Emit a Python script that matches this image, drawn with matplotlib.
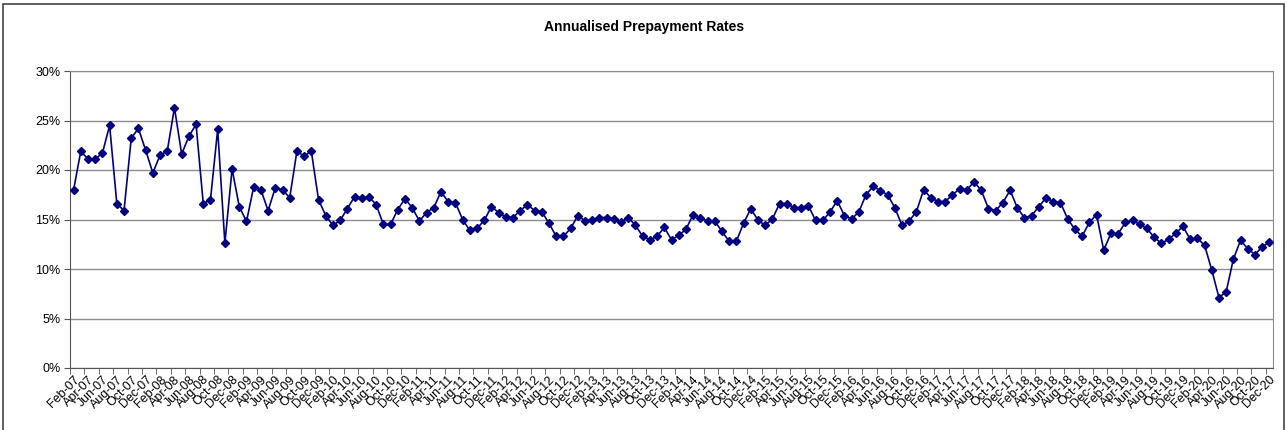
import matplotlib.pyplot as plt
from matplotlib.patches import Rectangle
from matplotlib.ticker import FuncFormatter

plt.rcParams['font.family'] = ['Liberation Sans', 'DejaVu Sans']

# monthly annualised prepayment rate (%), Feb-07 .. Dec-20
rates_2007 = [18.0, 21.9, 21.1, 21.1, 21.7, 24.5, 16.6, 15.9, 23.2, 24.2, 22.0]
rates_2008 = [19.7, 21.5, 21.9, 26.3, 21.6, 23.4, 24.6, 16.6, 17.0, 24.1, 12.6, 20.1]
rates_2009 = [16.3, 14.8, 18.3, 18.0, 15.9, 18.2, 18.0, 17.2, 21.9, 21.4, 21.9, 17.0]
rates_2010 = [15.4, 14.4, 14.9, 16.1, 17.3, 17.2, 17.3, 16.5, 14.5, 14.5, 16.0, 17.1]
rates_2011 = [16.2, 14.85, 15.7, 16.2, 17.8, 16.8, 16.7, 15.0, 13.9, 14.1, 14.9, 16.3]
rates_2012 = [15.7, 15.25, 15.2, 15.9, 16.5, 15.9, 15.8, 14.6, 13.3, 13.3, 14.1, 15.4]
rates_2013 = [14.85, 15.0, 15.2, 15.2, 15.05, 14.75, 15.2, 14.4, 13.3, 12.95, 13.3, 14.2]
rates_2014 = [12.95, 13.4, 14.0, 15.5, 15.15, 14.85, 14.85, 13.8, 12.8, 12.8, 14.6, 16.1]
rates_2015 = [14.95, 14.4, 15.05, 16.6, 16.6, 16.2, 16.2, 16.4, 14.9, 14.9, 15.75, 16.9]
rates_2016 = [15.4, 15.05, 15.75, 17.5, 18.35, 17.9, 17.5, 16.2, 14.4, 14.85, 15.8, 18.0]
rates_2017 = [17.2, 16.8, 16.8, 17.5, 18.1, 18.0, 18.8, 17.95, 16.1, 15.9, 16.7, 17.95]
rates_2018 = [16.2, 15.15, 15.4, 16.3, 17.2, 16.8, 16.7, 15.05, 14.0, 13.3, 14.7, 15.5]
rates_2019 = [11.9, 13.6, 13.55, 14.7, 14.9, 14.5, 14.1, 13.2, 12.6, 13.0, 13.6, 14.3]
rates_2020 = [13.0, 13.1, 12.4, 9.9, 7.1, 7.7, 11.0, 12.9, 12.05, 11.45, 12.25, 12.7]

rates = (rates_2007 + rates_2008 + rates_2009 + rates_2010 + rates_2011 + rates_2012 +
         rates_2013 + rates_2014 + rates_2015 + rates_2016 + rates_2017 + rates_2018 +
         rates_2019 + rates_2020)

months = ['Jan', 'Feb', 'Mar', 'Apr', 'May', 'Jun', 'Jul', 'Aug', 'Sep', 'Oct', 'Nov', 'Dec']
dates = [f"{m}-{y % 100:02d}" for y in range(2007, 2021) for m in months][1:]

W, H = 1288, 430
fig = plt.figure(figsize=(W / 100, H / 100), dpi=100)
ax = fig.add_axes([70 / W, 1 - 368 / H, 1203 / W, 297 / H])

x = list(range(len(rates)))
ax.plot(x, rates, color='#000080', lw=1.2, marker='D', markersize=4.5,
        markerfacecolor='#000080', markeredgecolor='#000080', zorder=3)

ax.set_xlim(-0.5, len(rates) - 0.5)
ax.set_ylim(0, 30)
ax.set_yticks(range(0, 31, 5))
ax.yaxis.set_major_formatter(FuncFormatter(lambda v, p: f"{int(v)}%"))
ax.grid(axis='y', color='#8c8c8c', lw=1)
ax.set_axisbelow(True)

ax.set_xticks(x[::2])
ax.set_xticklabels(dates[::2], rotation=45, ha='right', rotation_mode='anchor', fontsize=9)
ax.set_xticks([i - 0.5 for i in x[::2]], minor=True)
ax.tick_params(axis='x', which='major', length=0, pad=4)
ax.tick_params(axis='x', which='minor', length=4, color='#555555', direction='out')
ax.tick_params(axis='y', length=4, color='#555555', labelsize=9, pad=3)

for side in ['left', 'bottom']:
    ax.spines[side].set_color('#555555')
for side in ['top', 'right']:
    ax.spines[side].set_color('#8c8c8c')

fig.text(0.5, 1 - 27 / H, 'Annualised Prepayment Rates', ha='center', va='center',
         fontsize=10, fontweight='bold')

# chart-area border (bottom edge falls just outside the image)
fig.add_artist(Rectangle((3 / W, -0.02), 1281 / W, 1.02 - 4 / H, transform=fig.transFigure,
                         fill=False, edgecolor='#444444', lw=1.2))

fig.savefig('out.png', dpi=100)
